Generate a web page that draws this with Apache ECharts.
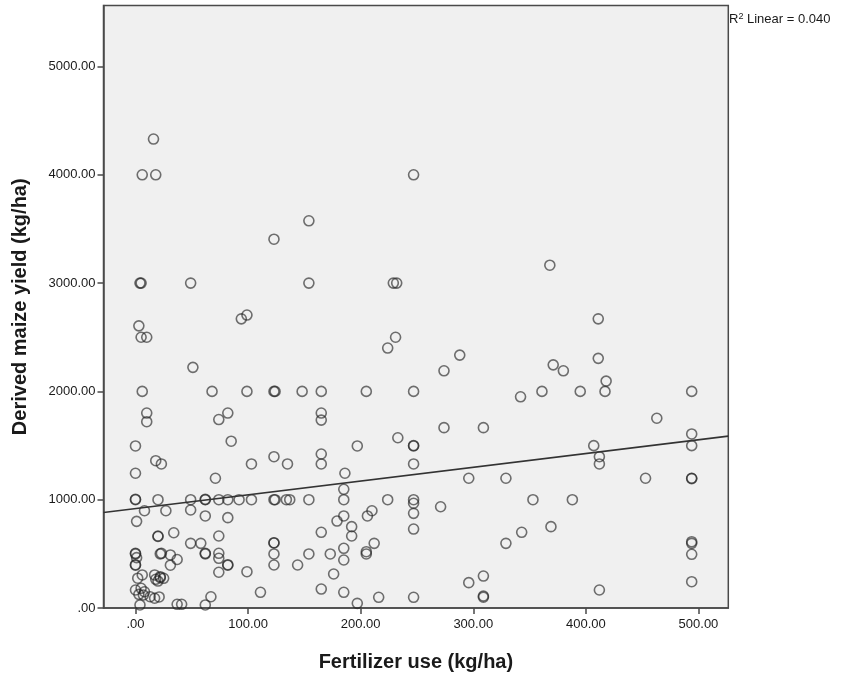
<!DOCTYPE html>
<html>
<head>
<meta charset="utf-8">
<script src="https://cdn.jsdelivr.net/npm/echarts@6/dist/echarts.min.js"></script>
<style>
  html, body { margin: 0; padding: 0; background: #ffffff; }
  #chart { width: 849px; height: 677px; }
</style>
</head>
<body>
<div id="chart"></div>
<script>
// fertilizer use (kg/ha), derived maize yield (kg/ha)
const points = [
  [16, 4330], [6, 4000], [18, 4000], [247, 4000],
  [4, 3000], [5, 3000], [49, 3000], [154, 3000], [229, 3000], [232, 3000],
  [154, 3575], [123, 3405], [368, 3165],
  [99, 2705], [94, 2670], [3, 2605], [5, 2500], [10, 2500], [231, 2500], [224, 2400],
  [411, 2670], [411, 2305], [288, 2335], [371, 2245], [380, 2190], [274, 2190], [51, 2222], [418, 2095],
  [6, 2000], [68, 2000], [99, 2000], [123, 2000], [124, 2000], [148, 2000], [165, 2000], [205, 2000],
  [247, 2000], [342, 1950], [361, 2000], [395, 2000], [417, 2000], [494, 2000],
  [10, 1800], [10, 1720], [74, 1740], [82, 1800], [165, 1800], [165, 1735], [463, 1752], [85, 1540],
  [0, 1496], [18, 1360], [23, 1330], [103, 1330], [123, 1397], [135, 1330], [165, 1422], [165, 1330],
  [197, 1496], [233, 1572], [274, 1665], [309, 1665], [247, 1496], [247, 1500], [247, 1330],
  [494, 1607], [494, 1499], [407, 1499], [412, 1397], [412, 1330],
  [0, 1244], [71, 1198], [186, 1244], [296, 1198], [329, 1198], [453, 1198], [494, 1198], [494, 1195], [185, 1096],
  [0, 1000], [0, 1004], [20, 1000], [49, 1000], [62, 1000], [62, 1003], [74, 1000], [82, 1000], [92, 1000],
  [103, 1000], [123, 1000], [124, 1000], [134, 1000], [137, 1000], [154, 1000], [185, 1000], [224, 1000],
  [247, 1000], [353, 1000], [388, 1000],
  [8, 898], [27, 898], [49, 905], [62, 850], [82, 834], [1, 800], [206, 850], [210, 898], [179, 803],
  [185, 850], [192, 751], [192, 665], [165, 699], [247, 967], [247, 874], [271, 935], [247, 729], [369, 751],
  [343, 699], [329, 597], [494, 612], [494, 597], [494, 496], [494, 243], [412, 166],
  [20, 665], [20, 660], [34, 695], [49, 597], [58, 597], [74, 665],
  [123, 603], [123, 600], [123, 499], [123, 397], [99, 335], [144, 397], [154, 499], [173, 499],
  [185, 551], [185, 443], [176, 314], [205, 520], [205, 499], [212, 597], [111, 145], [165, 175],
  [185, 145], [197, 43], [216, 99],
  [296, 234], [309, 295], [309, 111], [309, 100], [247, 99],
  [0, 505], [0, 500], [1, 465], [0, 400], [0, 395], [22, 500], [23, 505], [31, 490], [37, 448], [31, 395],
  [62, 505], [62, 500], [74, 505], [74, 459], [82, 400], [82, 395], [74, 330],
  [2, 275], [6, 305], [17, 305], [22, 289], [25, 274], [20, 249], [18, 265], [22, 280],
  [0, 166], [5, 182], [3, 126], [7, 120], [13, 104], [17, 90], [21, 102], [8, 150],
  [4, 28], [37, 34], [41, 34], [62, 28], [67, 104]
];

// fit line end points as drawn
const fitLine = [[-28.4, 882], [526.5, 1587]];

const xTicks = [0, 100, 200, 300, 400, 500];
const yTicks = [0, 1000, 2000, 3000, 4000, 5000];

const fmt = (v) => (v === 0 ? ".00" : v.toFixed(2));

const chart = echarts.init(document.getElementById("chart"), null, { renderer: "canvas" });

const fontFamily = "Liberation Sans, Arial, sans-serif";
const axisFont = { color: "#1a1a1a", fontSize: 13, fontFamily };
const nameFont = { fontSize: 20, fontWeight: "bold", color: "#1a1a1a", fontFamily };

chart.setOption({
  animation: false,
  backgroundColor: "#ffffff",
  grid: {
    left: 103.5, top: 5.5, right: 120.7, bottom: 69,
    show: true,
    backgroundColor: "#f0f0f0",
    borderColor: "#4a4a4a",
    borderWidth: 1.5
  },
  title: {
    left: 729,
    top: 12,
    padding: 0,
    text: "{a|R}{s|2}{a| Linear = 0.040}",
    textStyle: {
      fontWeight: "normal",
      rich: {
        a: { fontSize: 13, fontWeight: "normal", color: "#1a1a1a", fontFamily },
        s: { fontSize: 9, fontWeight: "normal", color: "#1a1a1a", verticalAlign: "top", padding: [0, 0, 6, 0], fontFamily }
      }
    }
  },
  xAxis: {
    type: "value",
    min: -28.4,
    max: 526.5,
    name: "Fertilizer use (kg/ha)",
    nameLocation: "middle",
    nameGap: 44,
    nameTextStyle: nameFont,
    axisLine: { show: true, onZero: false, lineStyle: { color: "#4a4a4a", width: 1.5 } },
    axisTick: { show: true, length: 6, customValues: xTicks, lineStyle: { color: "#4a4a4a", width: 1.5 } },
    axisLabel: { ...axisFont, margin: 10, customValues: xTicks, formatter: fmt },
    splitLine: { show: false }
  },
  yAxis: {
    type: "value",
    min: 0,
    max: 5563,
    name: "Derived maize yield (kg/ha)",
    nameLocation: "middle",
    nameGap: 73,
    nameRotate: 90,
    nameTextStyle: nameFont,
    axisLine: { show: true, onZero: false, lineStyle: { color: "#4a4a4a", width: 1.5 } },
    axisTick: { show: true, length: 6, customValues: yTicks, lineStyle: { color: "#4a4a4a", width: 1.5 } },
    axisLabel: { ...axisFont, margin: 8, customValues: yTicks, formatter: fmt },
    splitLine: { show: false }
  },
  series: [
    {
      type: "scatter",
      data: points,
      symbol: "circle",
      symbolSize: 10,
      itemStyle: { color: "rgba(0,0,0,0)", borderColor: "rgba(35,35,35,0.8)", borderWidth: 1.6 },
      z: 3
    },
    {
      type: "line",
      data: fitLine,
      showSymbol: false,
      lineStyle: { color: "#333", width: 1.6 },
      z: 4
    }
  ]
});
</script>
</body>
</html>
